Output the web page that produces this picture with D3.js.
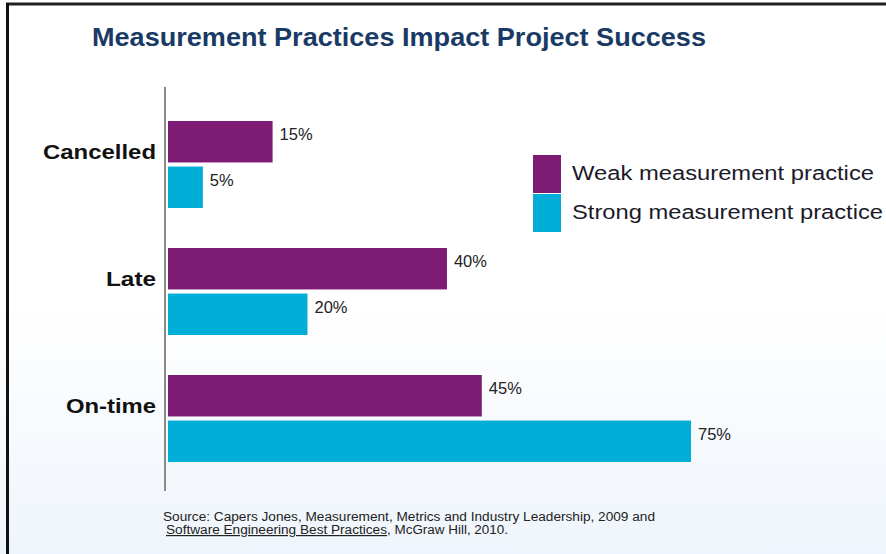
<!DOCTYPE html>
<html>
<head>
<meta charset="utf-8">
<script src="https://cdn.jsdelivr.net/npm/d3@7"></script>
<style>
  body { margin: 0; background: #fff; }
  svg { display: block; font-family: "Liberation Sans", Arial, sans-serif; }
</style>
</head>
<body>
<div id="chart"></div>
<script>
// data
const categories = ["Cancelled", "Late", "On-time"];
const seriesNames = ["Weak measurement practice", "Strong measurement practice"];
const weakValues = [15, 40, 45];
const strongValues = [5, 20, 75];
const colors = ["#7e1b75", "#00aed7"];

const width = 886, height = 554;

const svg = d3.select("#chart").append("svg")
    .attr("width", width)
    .attr("height", height);

// background gradient (white to pale blue at the bottom)
const defs = svg.append("defs");
const grad = defs.append("linearGradient")
    .attr("id", "bg").attr("x1", 0).attr("y1", 0).attr("x2", 0).attr("y2", 1);
grad.append("stop").attr("offset", "0.55").attr("stop-color", "#ffffff");
grad.append("stop").attr("offset", "1").attr("stop-color", "#eff5fc");

svg.append("rect")
    .attr("width", width).attr("height", height)
    .attr("fill", "url(#bg)");

// frame lines (top and left)
svg.append("line")
    .attr("x1", 6).attr("x2", width).attr("y1", 4).attr("y2", 4)
    .attr("stroke", "#222").attr("stroke-width", 3);
svg.append("line")
    .attr("x1", 7.5).attr("x2", 7.5).attr("y1", 3).attr("y2", height)
    .attr("stroke", "#111").attr("stroke-width", 3);

// title
svg.append("text")
    .attr("x", 92).attr("y", 46)
    .attr("font-size", 25).attr("font-weight", "bold")
    .attr("fill", "#1a3a66")
    .attr("textLength", 614).attr("lengthAdjust", "spacingAndGlyphs")
    .text("Measurement Practices Impact Project Success");

// scales
const y = d3.scaleBand()
    .domain(categories)
    .range([121, 462])
    .paddingInner(0.315);

const ySub = d3.scaleBand()
    .domain([0, 1])
    .range([0, y.bandwidth()])
    .paddingInner(0.09);

const x = d3.scaleLinear()
    .domain([0, 75])
    .range([168, 691]);

const rows = categories.map((c, i) => ({
    cat: c,
    values: [weakValues[i], strongValues[i]]
}));

// axis line
svg.append("line")
    .attr("x1", 165).attr("x2", 165)
    .attr("y1", 87).attr("y2", 491)
    .attr("stroke", "#8a8a8a").attr("stroke-width", 2);

const group = svg.selectAll(".group")
    .data(rows)
    .enter().append("g")
    .attr("class", "group")
    .attr("transform", d => "translate(0," + y(d.cat) + ")");

group.selectAll("rect")
    .data(d => d.values)
    .enter().append("rect")
    .attr("x", x(0))
    .attr("y", (d, i) => ySub(i))
    .attr("width", d => x(d) - x(0))
    .attr("height", ySub.bandwidth())
    .attr("fill", (d, i) => colors[i]);

group.selectAll(".val")
    .data(d => d.values)
    .enter().append("text")
    .attr("class", "val")
    .attr("x", d => x(d) + 7)
    .attr("y", (d, i) => ySub(i) + 19)
    .attr("font-size", 16.5)
    .attr("fill", "#222")
    .text(d => d + "%");

// category labels (wide rendering in the original, so fit to measured widths)
const labelWidths = [113, 50, 90];
group.append("text")
    .attr("x", 156)
    .attr("y", y.bandwidth() / 2 - 5)
    .attr("text-anchor", "end")
    .attr("font-size", 20).attr("font-weight", "bold")
    .attr("fill", "#111")
    .attr("textLength", (d, i) => labelWidths[i])
    .attr("lengthAdjust", "spacingAndGlyphs")
    .text(d => d.cat);

// legend
const legend = svg.selectAll(".legend")
    .data(seriesNames)
    .enter().append("g")
    .attr("class", "legend")
    .attr("transform", (d, i) => "translate(533," + (155 + i * 39) + ")");

legend.append("rect")
    .attr("width", 28).attr("height", 38)
    .attr("fill", (d, i) => colors[i]);

legend.append("text")
    .attr("x", 39).attr("y", 25)
    .attr("font-size", 20)
    .attr("fill", "#1a1a2a")
    .attr("textLength", (d, i) => i === 0 ? 302 : 311)
    .attr("lengthAdjust", "spacingAndGlyphs")
    .text(d => d);

// source note
svg.append("text")
    .attr("x", 163).attr("y", 521)
    .attr("font-size", 12).attr("fill", "#222")
    .attr("textLength", 492).attr("lengthAdjust", "spacingAndGlyphs")
    .text("Source: Capers Jones, Measurement, Metrics and Industry Leadership, 2009 and");

svg.append("text")
    .attr("x", 166).attr("y", 534)
    .attr("font-size", 12).attr("fill", "#222")
    .attr("text-decoration", "underline")
    .attr("textLength", 221).attr("lengthAdjust", "spacingAndGlyphs")
    .text("Software Engineering Best Practices");

svg.append("text")
    .attr("x", 387).attr("y", 534)
    .attr("font-size", 12).attr("fill", "#222")
    .attr("textLength", 121).attr("lengthAdjust", "spacingAndGlyphs")
    .text(", McGraw Hill, 2010.");
</script>
</body>
</html>
